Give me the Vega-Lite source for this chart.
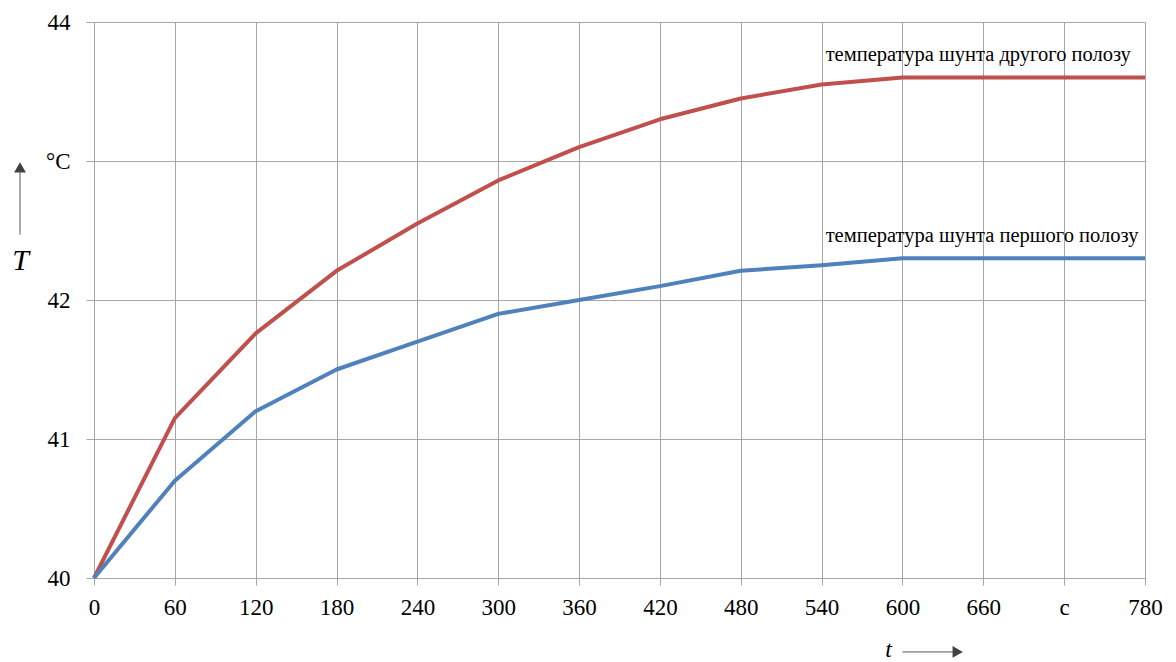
{
  "$schema": "https://vega.github.io/schema/vega-lite/v6.json",
  "width": 1051,
  "height": 556,
  "autosize": {"type": "none"},
  "padding": {"left": 94, "top": 22, "right": 31, "bottom": 84},
  "background": "white",
  "config": {
    "view": {"stroke": null},
    "font": "Liberation Serif"
  },
  "datasets": {
    "series": [
      {"t": 0, "T": 40.0, "s": "second"},
      {"t": 60, "T": 41.15, "s": "second"},
      {"t": 120, "T": 41.76, "s": "second"},
      {"t": 180, "T": 42.21, "s": "second"},
      {"t": 240, "T": 42.55, "s": "second"},
      {"t": 300, "T": 42.86, "s": "second"},
      {"t": 360, "T": 43.1, "s": "second"},
      {"t": 420, "T": 43.3, "s": "second"},
      {"t": 480, "T": 43.45, "s": "second"},
      {"t": 540, "T": 43.55, "s": "second"},
      {"t": 600, "T": 43.6, "s": "second"},
      {"t": 660, "T": 43.6, "s": "second"},
      {"t": 720, "T": 43.6, "s": "second"},
      {"t": 780, "T": 43.6, "s": "second"},
      {"t": 0, "T": 40.0, "s": "first"},
      {"t": 60, "T": 40.7, "s": "first"},
      {"t": 120, "T": 41.2, "s": "first"},
      {"t": 180, "T": 41.5, "s": "first"},
      {"t": 240, "T": 41.7, "s": "first"},
      {"t": 300, "T": 41.9, "s": "first"},
      {"t": 360, "T": 42.0, "s": "first"},
      {"t": 420, "T": 42.1, "s": "first"},
      {"t": 480, "T": 42.21, "s": "first"},
      {"t": 540, "T": 42.25, "s": "first"},
      {"t": 600, "T": 42.3, "s": "first"},
      {"t": 660, "T": 42.3, "s": "first"},
      {"t": 720, "T": 42.3, "s": "first"},
      {"t": 780, "T": 42.3, "s": "first"}
    ],
    "labels": [
      {"t": 543, "T": 43.72, "label": "температура шунта другого полозу"},
      {"t": 543, "T": 42.42, "label": "температура шунта першого полозу"}
    ],
    "arrowLines": [
      {"t": 600, "t2": 638, "T": 39.468, "T2": 39.468},
      {"t": -54.9, "t2": -54.9, "T": 42.47, "T2": 42.92}
    ],
    "arrowHeads": [
      {"t": 641, "T": 39.468, "shape": "triangle-right"},
      {"t": -54.9, "T": 42.955, "shape": "triangle-up"}
    ]
  },
  "layer": [
    {
      "data": {"name": "series"},
      "mark": {"type": "line", "strokeWidth": 4, "strokeJoin": "round"},
      "encoding": {
        "x": {
          "field": "t", "type": "quantitative",
          "scale": {"domain": [0, 780], "nice": false, "zero": false},
          "axis": {
            "values": [0, 60, 120, 180, 240, 300, 360, 420, 480, 540, 600, 660, 720, 780],
            "labelExpr": "datum.value == 720 ? 'c' : datum.label",
            "format": "d",
            "labelFlush": false,
            "grid": true, "gridColor": "#A6A6A6", "gridWidth": 1, "gridOpacity": 1,
            "domain": false,
            "ticks": true, "tickSize": 7, "tickColor": "#A6A6A6",
            "labelFont": "Liberation Serif", "labelFontSize": 23, "labelColor": "#000000",
            "labelPadding": 11,
            "title": "t", "titleFont": "Liberation Serif", "titleFontStyle": "italic",
            "titleFontWeight": "normal", "titleFontSize": 24, "titleColor": "#000000",
            "titleX": 794, "titleY": 78, "titleAnchor": "middle", "titleBaseline": "alphabetic"
          }
        },
        "y": {
          "field": "T", "type": "quantitative",
          "scale": {"domain": [40, 44], "nice": false, "zero": false},
          "axis": {
            "values": [40, 41, 42, 43, 44],
            "format": "d",
            "labelExpr": "datum.value == 43 ? '°C' : datum.label",
            "labelFlush": false,
            "grid": true, "gridColor": "#A6A6A6", "gridWidth": 1, "gridOpacity": 1,
            "domain": false,
            "ticks": true, "tickSize": 8, "tickColor": "#A6A6A6",
            "labelFont": "Liberation Serif", "labelFontSize": 23, "labelColor": "#000000",
            "labelPadding": 16,
            "title": "T", "titleFont": "Liberation Serif", "titleFontStyle": "italic",
            "titleFontWeight": "normal", "titleFontSize": 30, "titleColor": "#000000",
            "titleAngle": 0, "titleX": -74, "titleY": 238, "titleAlign": "center", "titleBaseline": "middle"
          }
        },
        "color": {
          "field": "s", "type": "nominal",
          "scale": {"domain": ["first", "second"], "range": ["#4F81BD", "#C0504D"]},
          "legend": null
        }
      }
    },
    {
      "data": {"name": "labels"},
      "mark": {"type": "text", "align": "left", "baseline": "alphabetic", "font": "Liberation Serif", "fontSize": 20.5, "color": "#000000"},
      "encoding": {
        "x": {"field": "t", "type": "quantitative"},
        "y": {"field": "T", "type": "quantitative"},
        "text": {"field": "label"}
      }
    },
    {
      "data": {"name": "arrowLines"},
      "mark": {"type": "rule", "color": "#555555", "strokeWidth": 1},
      "encoding": {
        "x": {"field": "t", "type": "quantitative"},
        "x2": {"field": "t2"},
        "y": {"field": "T", "type": "quantitative"},
        "y2": {"field": "T2"}
      }
    },
    {
      "data": {"name": "arrowHeads"},
      "mark": {"type": "point", "filled": true, "color": "#404040", "opacity": 1, "size": 140},
      "encoding": {
        "x": {"field": "t", "type": "quantitative"},
        "y": {"field": "T", "type": "quantitative"},
        "shape": {"field": "shape", "type": "nominal", "scale": null}
      }
    }
  ]
}
